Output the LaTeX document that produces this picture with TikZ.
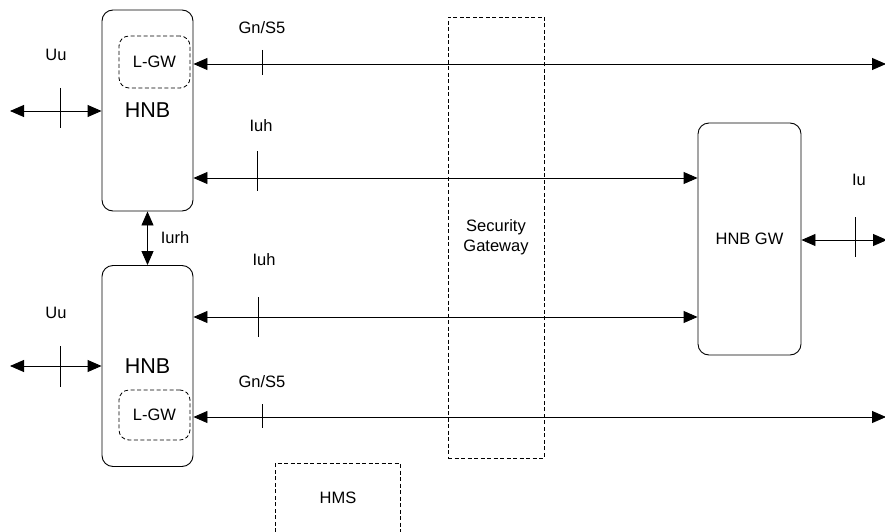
\documentclass[tikz,border=0pt]{standalone}
\usepackage{fontspec}
\setmainfont{Liberation Sans}
\usetikzlibrary{arrows.meta}
\begin{document}
\begin{tikzpicture}[x=1pt,y=-1pt,
  every node/.style={font=\fontsize{16.5}{20}\selectfont, inner sep=0pt},
  box/.style={draw, rounded corners=11pt, line width=0.9pt},
  dbox/.style={draw, dash pattern=on 4pt off 2.5pt, rounded corners=10pt, line width=0.8pt},
  dashbox/.style={draw, dash pattern=on 4pt off 2.5pt, line width=0.8pt},
  link/.style={line width=0.9pt, {Triangle[length=14pt,width=12pt]}-{Triangle[length=14pt,width=12pt]}},
  tick/.style={line width=0.9pt},
  lbl/.style={font=\fontsize{16.5}{20}\selectfont},
  big/.style={font=\fontsize{21.5}{25}\selectfont}]
\useasboundingbox (0,0) rectangle (885,532);
% Security gateway and HMS
\node[dashbox, minimum width=96pt, minimum height=441pt, align=center] (sgw) at (496,237.5) {Security\\Gateway};
\draw[dashbox] (275,545) -- (275,463) -- (400,463) -- (400,545);
\node[lbl] (hms) at (338,498) {HMS};
% HNBs
\node[box, big, minimum width=91pt, minimum height=201pt] (hnb1) at (147.5,110.5) {HNB};
\node[box, big, minimum width=91pt, minimum height=201pt] (hnb2) at (147.5,366) {HNB};
\node[dbox, minimum width=71pt, minimum height=52pt] (lgw1) at (154.5,62) {L-GW};
\node[dbox, minimum width=71pt, minimum height=50pt] (lgw2) at (154.5,415) {L-GW};
% HNB GW
\node[box, minimum width=103pt, minimum height=232pt] (hgw) at (749.5,239) {HNB GW};
% free ends
\coordinate (uu1) at (10,111);
\coordinate (uu2) at (10,366);
\coordinate (gn1) at (886,64);
\coordinate (gn2) at (886,417);
\coordinate (iu) at (887,240);
% connectors
\draw[link] (uu1) -- (uu1 -| hnb1.west);
\draw[link] (uu2) -- (uu2 -| hnb2.west);
\draw[link] (hnb1.east |- gn1) -- (gn1);
\draw[link] (hnb2.east |- gn2) -- (gn2);
\draw[link] (hnb1.east |- 0,178) -- (hgw.west |- 0,178);
\draw[link] (hnb2.east |- 0,317) -- (hgw.west |- 0,317);
\draw[link] (hnb1.south) -- (hnb2.north);
\draw[link] (hgw.east |- iu) -- (iu);
% ticks
\draw[tick] (60,88) -- (60,128);
\draw[tick] (60,346) -- (60,387);
\draw[tick] (262,50) -- (262,75);
\draw[tick] (262,404) -- (262,428);
\draw[tick] (257,151) -- (257,191);
\draw[tick] (258,297) -- (258,337);
\draw[tick] (855,217) -- (855,257);
% labels
\node[lbl] at (56,55) {Uu};
\node[lbl] at (56,313) {Uu};
\node[lbl] at (262,28) {Gn/S5};
\node[lbl] at (262,382) {Gn/S5};
\node[lbl] at (261,126) {Iuh};
\node[lbl] at (264,260) {Iuh};
\node[lbl] at (175,238) {Iurh};
\node[lbl] at (859,180) {Iu};
\end{tikzpicture}
\end{document}
